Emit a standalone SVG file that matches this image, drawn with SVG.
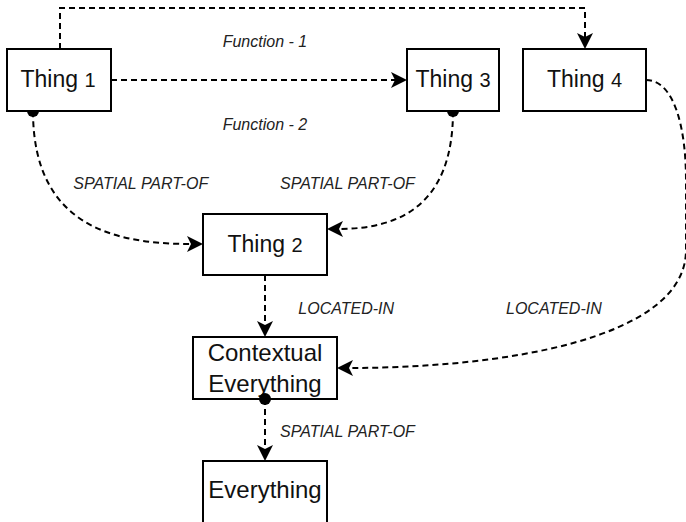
<svg xmlns="http://www.w3.org/2000/svg" width="686" height="522" viewBox="0 0 686 522">
<style>
.box{fill:#fff;stroke:#000;stroke-width:2}
.nt{font-family:"Liberation Sans",Arial,sans-serif;font-size:23px;fill:#111;text-anchor:middle}
.nt2{font-size:24px}
.dg{font-size:20px}
.lb{font-family:"Liberation Sans",Arial,sans-serif;font-size:16px;font-style:italic;fill:#222}
.ln{fill:none;stroke:#000;stroke-width:2;stroke-dasharray:6 4}
.dot{fill:#000}
</style>
<defs>
<marker id="arr" markerUnits="userSpaceOnUse" markerWidth="30" markerHeight="30" refX="0" refY="0" orient="auto" viewBox="-10 -15 30 30" overflow="visible">
<path d="M11,0 L-5,-8 L-1,0 L-5,8 Z" fill="#000"/>
</marker>
</defs>
<rect width="686" height="522" fill="#fff"/>
<g id="thing1"><rect class="box" x="7" y="49" width="104" height="62"/><text class="nt" x="58" y="87">Thing <tspan class="dg">1</tspan></text></g>
<g id="thing3"><rect class="box" x="407" y="49" width="92" height="62"/><text class="nt" x="453" y="87">Thing <tspan class="dg">3</tspan></text></g>
<g id="thing4"><rect class="box" x="523" y="49" width="123" height="62"/><text class="nt" x="584.5" y="87">Thing <tspan class="dg">4</tspan></text></g>
<g id="thing2"><rect class="box" x="203" y="214" width="124" height="61"/><text class="nt" x="265" y="252">Thing <tspan class="dg">2</tspan></text></g>
<g id="contextual"><rect class="box" x="193" y="337" width="144" height="62"/><text class="nt nt2" x="265" y="361">Contextual</text><text class="nt nt2" x="265" y="392">Everything</text></g>
<g id="everything"><rect class="box" x="203" y="461" width="124" height="62"/><text class="nt nt2" x="265" y="498">Everything</text></g>
<g id="connectors">
<path class="ln" d="M60,49 V8 H585 V38" marker-end="url(#arr)"/>
<path class="ln" d="M111,80 H396" marker-end="url(#arr)"/>
<path class="ln" d="M33,111 C33,230 120,244 192,244" marker-end="url(#arr)"/>
<path class="ln" d="M453,111 C453,205 400,229 338,229" marker-end="url(#arr)"/>
<path class="ln" d="M646,80 C675,80 686,130 686,180 L686,250 C686,340 500,368 348,368" marker-end="url(#arr)"/>
<path class="ln" d="M265,275 V326" marker-end="url(#arr)"/>
<path class="ln" d="M265,399 V450" marker-end="url(#arr)"/>
<path class="dot" d="M27,111 A6,6 0 0 0 39,111 Z"/>
<path class="dot" d="M447,111 A6,6 0 0 0 459,111 Z"/>
<circle class="dot" cx="265" cy="399" r="6"/>
<text class="lb" x="222.7" y="47">Function - 1</text>
<text class="lb" x="222.7" y="130">Function - 2</text>
<text class="lb" x="73.3" y="189">SPATIAL PART-OF</text>
<text class="lb" x="280" y="189">SPATIAL PART-OF</text>
<text class="lb" x="298.3" y="314">LOCATED-IN</text>
<text class="lb" x="506" y="314">LOCATED-IN</text>
<text class="lb" x="280" y="437">SPATIAL PART-OF</text>
</g>
</svg>
